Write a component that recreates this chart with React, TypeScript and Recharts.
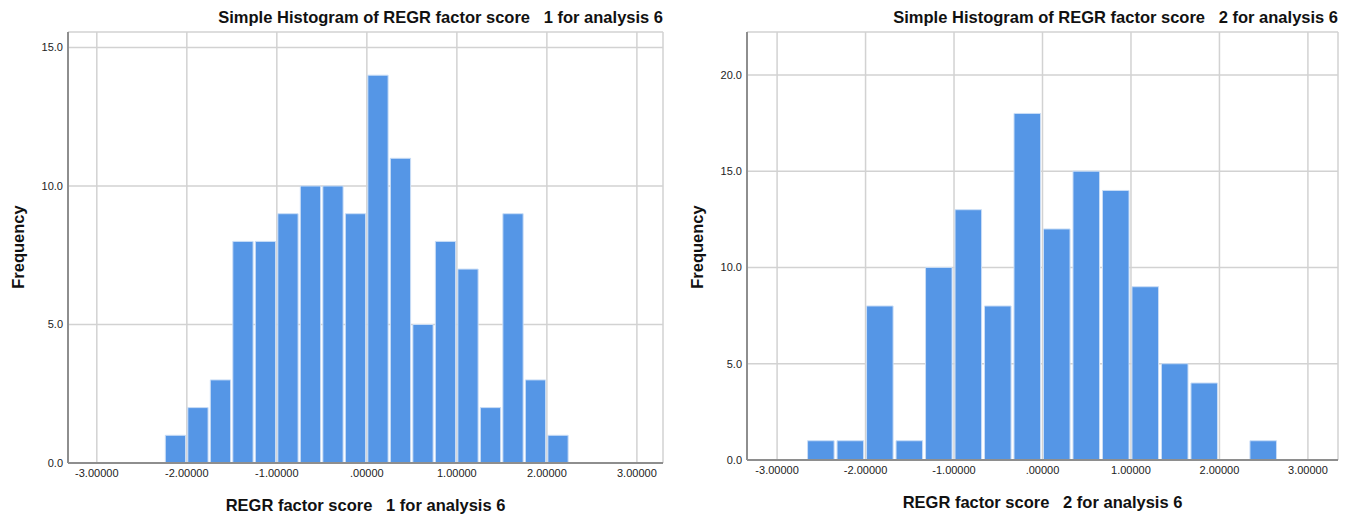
import { BarChart, Bar, XAxis, YAxis, CartesianGrid } from 'recharts';

// shared x ticks (factor scores)
const xTicks = [-3, -2, -1, 0, 1, 2, 3];

// factor score 1: bin centres (width .25) and frequencies
const f1Centers = [
  -2.125, -1.875, -1.625, -1.375, -1.125, -0.875, -0.625, -0.375, -0.125,
  0.125, 0.375, 0.625, 0.875, 1.125, 1.375, 1.625, 1.875, 2.125,
];
const f1Counts = [1, 2, 3, 8, 8, 9, 10, 10, 9, 14, 11, 5, 8, 7, 2, 9, 3, 1];
const f1YTicks = [0, 5, 10, 15];

// factor score 2: bin centres (width 1/3) and frequencies
const f2Centers = [
  -2.5, -2.1667, -1.8333, -1.5, -1.1667, -0.8333, -0.5, -0.1667,
  0.1667, 0.5, 0.8333, 1.1667, 1.5, 1.8333, 2.1667, 2.5,
];
const f2Counts = [1, 1, 8, 1, 10, 13, 8, 18, 12, 15, 14, 9, 5, 4, 0, 1];
const f2YTicks = [0, 5, 10, 15, 20];

const FONT = '"Liberation Sans", Arial, sans-serif';
const BAR_BLUE = '#5596e6';
const LABEL_SIZE = 16.5;

const fmtX = (v: number) => {
  const s = v.toFixed(5);
  return s.startsWith('0.') ? s.slice(1) : s;
};

interface HistProps {
  left: number;
  width: number;
  plotLeft: number;
  plotRight: number;
  plotBottom: number;
  xDomain: [number, number];
  yMax: number;
  binWidth: number;
  centers: number[];
  counts: number[];
  yTicks: number[];
  title: string;
  xLabel: string;
  freqX: number;
}

function Histogram(p: HistProps) {
  const data = p.centers.map((c, i) => ({ mid: c, count: p.counts[i] }));
  const height = 517;
  const plotTop = 32;
  const yAxisW = 50;
  const xAxisH = 30;
  const plotW = p.plotRight - p.plotLeft;
  const barSize = (plotW / (p.xDomain[1] - p.xDomain[0])) * p.binWidth;
  const centerX = (p.plotLeft + p.plotRight) / 2;

  return (
    <div style={{ position: 'absolute', left: p.left, top: 0, width: p.width, height }}>
      <BarChart
        width={p.width}
        height={height}
        data={data}
        barCategoryGap={0}
        margin={{
          top: plotTop,
          right: p.width - p.plotRight,
          left: p.plotLeft - yAxisW,
          bottom: height - p.plotBottom - xAxisH,
        }}
      >
        <CartesianGrid stroke="#d2d2d2" strokeWidth={1.5} />
        <XAxis
          dataKey="mid"
          type="number"
          domain={p.xDomain}
          ticks={xTicks}
          tickFormatter={fmtX}
          allowDataOverflow
          height={xAxisH}
          tickLine={false}
          tickSize={5}
          tickMargin={1}
          axisLine={{ stroke: '#8e8e8e', strokeWidth: 2 }}
          tick={{ fill: '#222', fontSize: 11, fontFamily: FONT }}
        />
        <YAxis
          type="number"
          domain={[0, p.yMax]}
          ticks={p.yTicks}
          tickFormatter={(v: number) => v.toFixed(1)}
          allowDataOverflow
          width={yAxisW}
          tickLine={false}
          tickSize={5}
          tickMargin={0}
          axisLine={{ stroke: '#8e8e8e', strokeWidth: 2 }}
          tick={{ fill: '#222', fontSize: 11, fontFamily: FONT }}
        />
        <Bar
          dataKey="count"
          fill={BAR_BLUE}
          stroke="#c9ddf6"
          strokeWidth={1}
          barSize={barSize}
          isAnimationActive={false}
        />
      </BarChart>
      <div
        style={{
          position: 'absolute',
          right: p.width - p.plotRight,
          top: 7,
          fontFamily: FONT,
          fontWeight: 'bold',
          fontSize: LABEL_SIZE,
          whiteSpace: 'pre',
          color: '#111',
          lineHeight: '20px',
        }}
      >
        {p.title}
      </div>
      <div
        style={{
          position: 'absolute',
          left: p.freqX,
          top: 247,
          transform: 'translate(-50%, -50%) rotate(-90deg)',
          fontFamily: FONT,
          fontWeight: 'bold',
          fontSize: LABEL_SIZE,
          color: '#111',
          whiteSpace: 'pre',
        }}
      >
        Frequency
      </div>
      <div
        style={{
          position: 'absolute',
          left: centerX,
          top: p.plotBottom + 42,
          transform: 'translate(-50%, -50%)',
          fontFamily: FONT,
          fontWeight: 'bold',
          fontSize: LABEL_SIZE,
          color: '#111',
          whiteSpace: 'pre',
        }}
      >
        {p.xLabel}
      </div>
    </div>
  );
}

export default function App() {
  return (
    <div
      style={{
        position: 'absolute',
        left: 0,
        top: 0,
        width: 1353,
        height: 517,
        background: '#fff',
        overflow: 'hidden',
      }}
    >
      <Histogram
        left={0}
        width={680}
        plotLeft={68}
        plotRight={663}
        plotBottom={463}
        xDomain={[-3.32, 3.29]}
        yMax={15.56}
        binWidth={0.25}
        centers={f1Centers}
        counts={f1Counts}
        yTicks={f1YTicks}
        title="Simple Histogram of REGR factor score   1 for analysis 6"
        xLabel="REGR factor score   1 for analysis 6"
        freqX={18}
      />
      <Histogram
        left={676}
        width={677}
        plotLeft={71}
        plotRight={662}
        plotBottom={460}
        xDomain={[-3.34, 3.34]}
        yMax={22.23}
        binWidth={1 / 3}
        centers={f2Centers}
        counts={f2Counts}
        yTicks={f2YTicks}
        title="Simple Histogram of REGR factor score   2 for analysis 6"
        xLabel="REGR factor score   2 for analysis 6"
        freqX={21}
      />
    </div>
  );
}
